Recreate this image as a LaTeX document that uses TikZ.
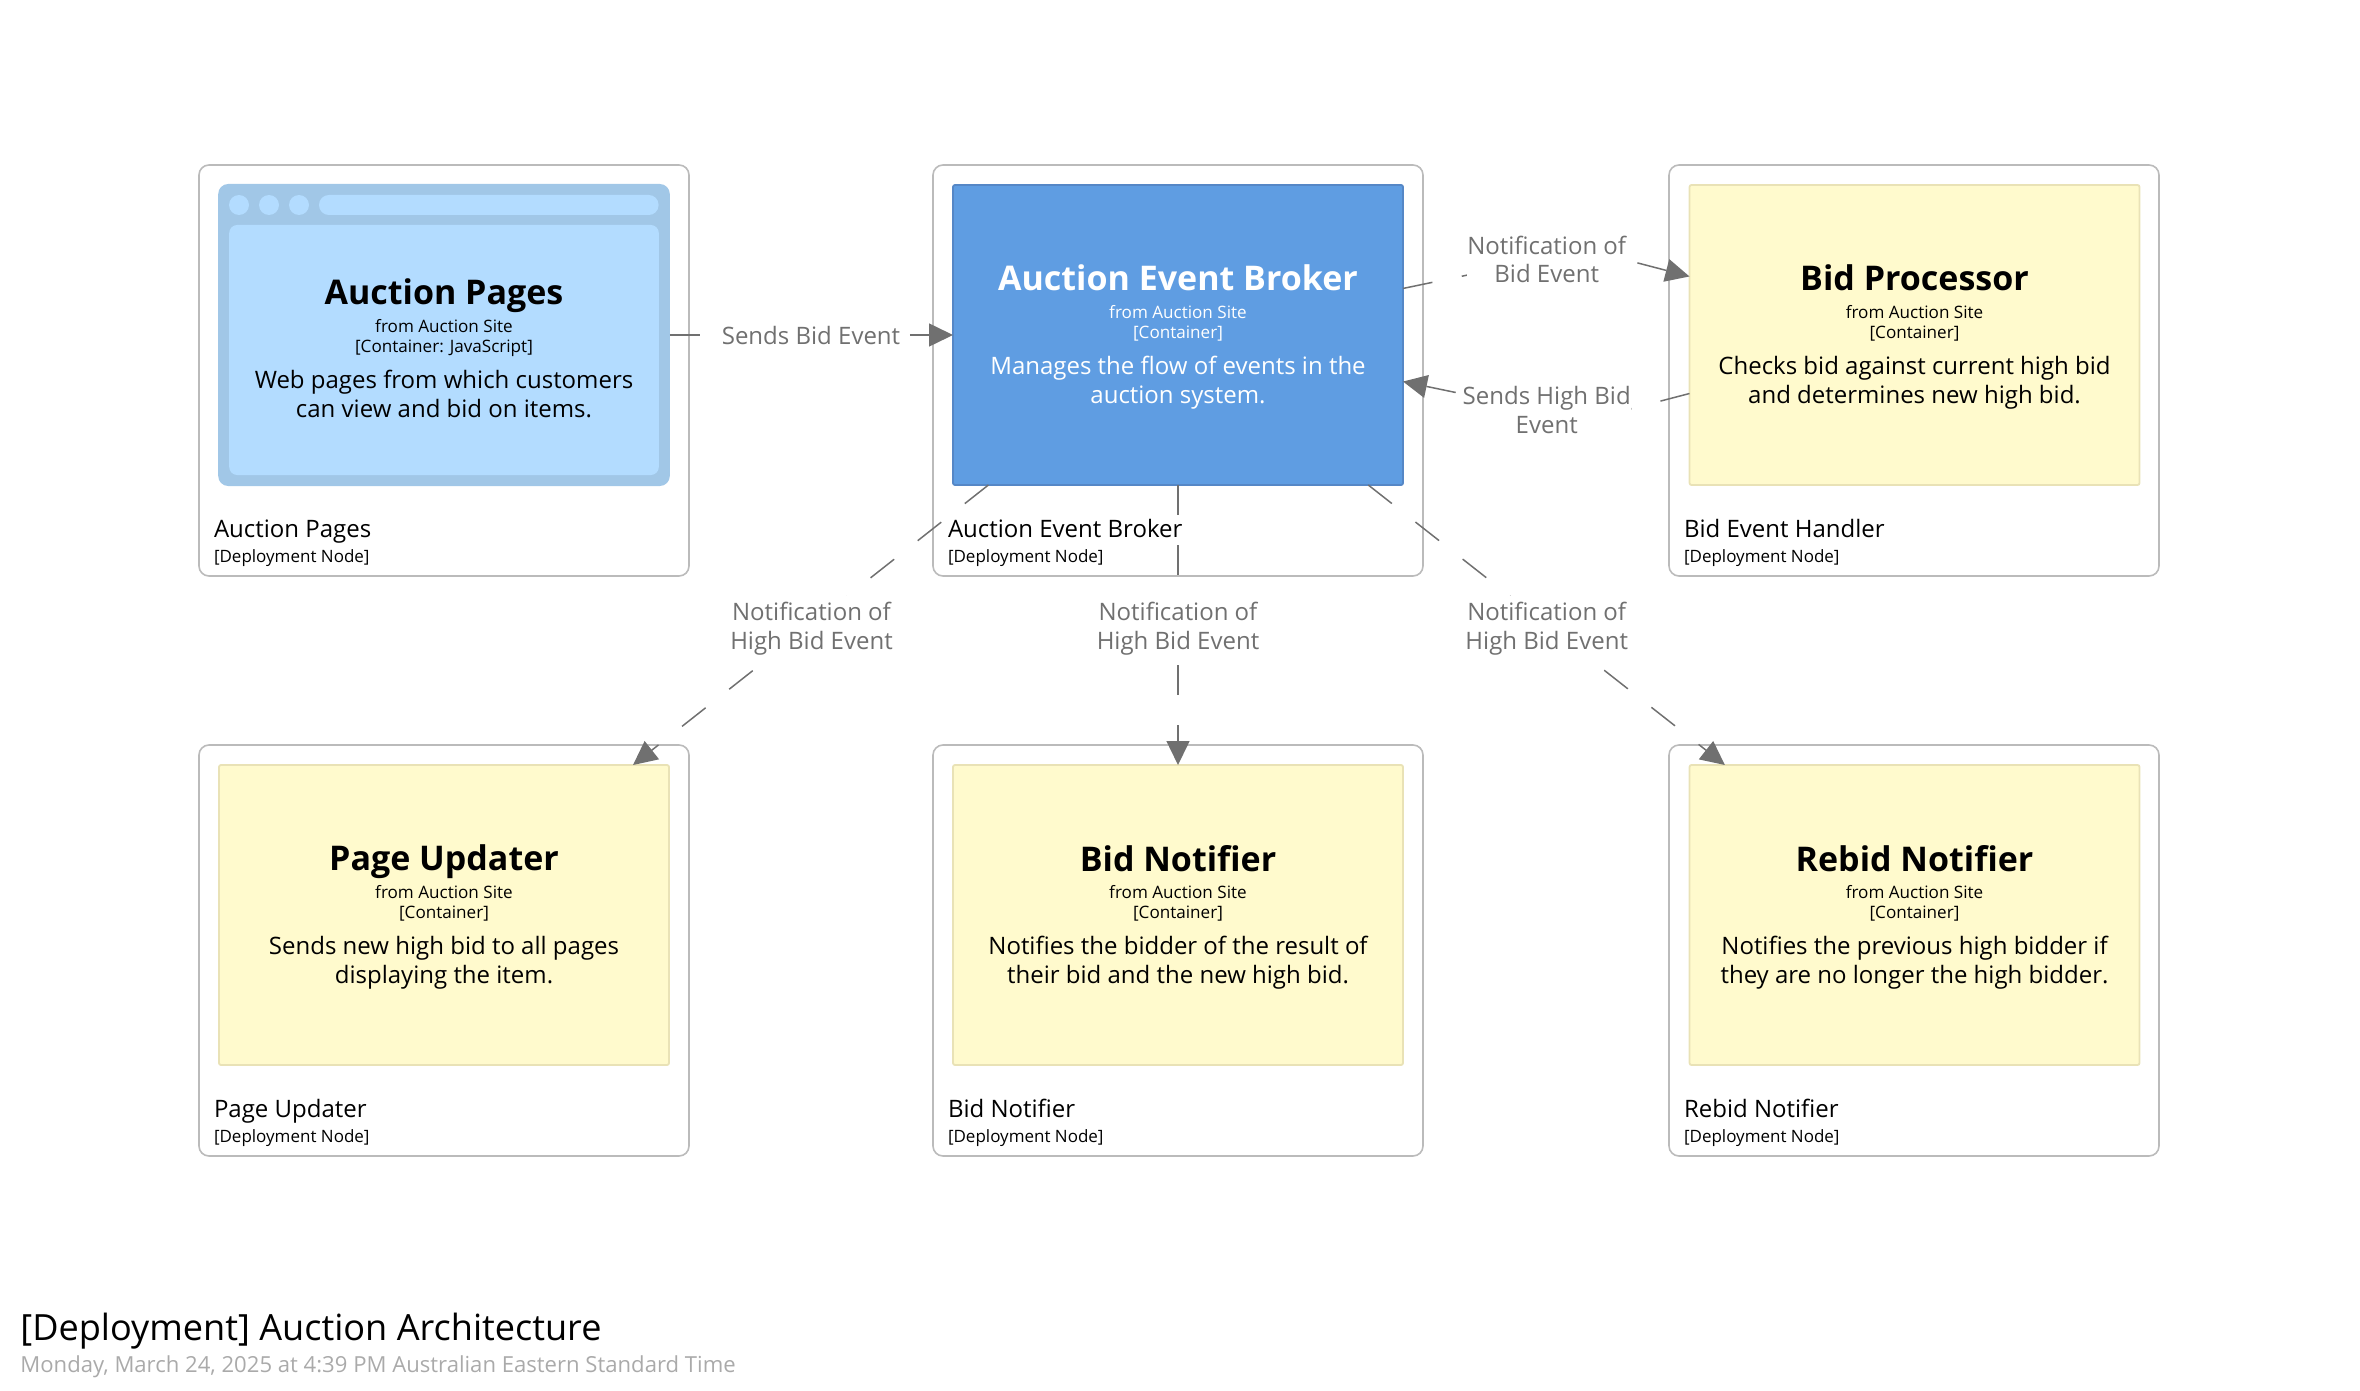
\documentclass[tikz,border=0pt]{standalone}
\usepackage{fontspec}
\setmainfont{Open Sans}
\usetikzlibrary{positioning,arrows.meta}

\definecolor{framegray}{HTML}{BBBBBB}
\definecolor{edgegray}{HTML}{707070}
\definecolor{dategray}{HTML}{AAAAAA}
\definecolor{brokerblue}{HTML}{5F9DE2}
\definecolor{brokerline}{HTML}{5587C6}
\definecolor{noteyellow}{HTML}{FFFACD}
\definecolor{noteline}{HTML}{E9E2B6}
\definecolor{browserblue}{HTML}{A1C7E7}
\definecolor{screenblue}{HTML}{B3DCFF}

\tikzset{
  deployframe/.style={draw=framegray, line width=0.8pt, rounded corners=5pt, minimum width=245pt, minimum height=205.5pt},
  innerbox/.style={line width=0.9pt, outer sep=0pt, rounded corners=1pt, minimum width=225pt, minimum height=150pt},
  yellowbox/.style={innerbox, draw=noteline, fill=noteyellow},
  bluebox/.style={innerbox, draw=brokerline, fill=brokerblue},
  browserbox/.style={fill=browserblue, outer sep=0pt, rounded corners=5pt, minimum width=225.8pt, minimum height=151pt},
  browserscreen/.style={fill=screenblue, rounded corners=4pt, minimum width=214.8pt, minimum height=125pt},
  browserbar/.style={fill=screenblue, rounded corners=4.9pt, minimum width=169.8pt, minimum height=10pt},
  browserdot/.style={circle, fill=screenblue, minimum size=10pt},
  boxtext/.style={inner sep=0pt, align=center, font=\fontsize{12}{14.5}\selectfont},
  deploytext/.style={inner sep=0pt, align=left, font=\fontsize{12}{12.5}\selectfont},
  edgelabel/.style={fill=white, inner xsep=0pt, inner ysep=3pt, align=center, text=edgegray, font=\fontsize{12}{14.4}\selectfont},
  edgeline/.style={draw=edgegray, line width=0.75pt, dash pattern=on 15pt off 15pt, -{Triangle[length=12pt,width=11.5pt]}},
}
\newcommand{\boxname}[1]{{\fontsize{17}{17}\bfseries\selectfont #1}\\[-0.85pt]}
\newcommand{\boxmeta}[2]{{\fontsize{8.55}{9}\selectfont #1}\\[-4.4pt]{\fontsize{8.55}{9}\selectfont #2}\\[3.55pt]}
\newcommand{\deploymeta}{{\fontsize{8.5}{9}\selectfont [Deployment Node]}}

\begin{document}
\begin{tikzpicture}[x=0.5pt,y=-0.5pt]
  \useasboundingbox (0,0) rectangle (2360,1391);

  \node[deployframe] (pagesframe) at (444,370.5) {};
  \node[deployframe] (brokerframe) at (1178,370.5) {};
  \node[deployframe] (handlerframe) at (1914,370.5) {};
  \node[deployframe] (updaterframe) at (444,950.5) {};
  \node[deployframe] (notifierframe) at (1178,950.5) {};
  \node[deployframe] (rebidframe) at (1914,950.5) {};

  \node[browserbox] (pages) at (444,335) {};
  \node[browserscreen] (pagesscreen) at (444,350) {};
  \node[browserdot] (pagesdota) at (239,205) {};
  \node[browserdot] (pagesdotb) at (269,205) {};
  \node[browserdot] (pagesdotc) at (299,205) {};
  \node[browserbar] (pagesbar) at (488.8,205) {};
  \node[bluebox] (broker) at (1178,335) {};
  \node[yellowbox] (processor) at (1914.5,335) {};
  \node[yellowbox] (updater) at (444,915) {};
  \node[yellowbox] (notifier) at (1178,915) {};
  \node[yellowbox] (rebid) at (1914.5,915) {};

  \coordinate (bidbend) at (1588,250);
  \coordinate (highbend) at (1588,420);

  \draw[edgeline] (pages) -- (broker);
  \draw[edgeline] (broker) -- (bidbend) -- (processor);
  \draw[edgeline] (processor) -- (highbend) -- (broker);
  \draw[edgeline] (broker) -- (updater);
  \draw[edgeline] (broker) -- (notifier);
  \draw[edgeline] (broker) -- (rebid);

  \node[edgelabel] (sendsbid) at (811,335.5) {Sends Bid Event};
  \node[edgelabel] (bidnote) at (1546.7,259.5) {Notification of\\Bid Event};
  \node[edgelabel] (highbid) at (1546.7,410) {Sends High Bid\\Event};
  \node[edgelabel] (updaternote) at (811.5,628.5) {Notification of\\High Bid Event};
  \node[edgelabel] (notifiernote) at (1178,628.5) {Notification of\\High Bid Event};
  \node[edgelabel] (rebidnote) at (1546.7,628.5) {Notification of\\High Bid Event};

  \node[boxtext, below=47.3pt of pages.north] (pagestext) {\boxname{Auction Pages}\boxmeta{from Auction Site}{[Container: JavaScript]}Web pages from which customers\\can view and bid on items.};
  \node[boxtext, text=white, below=39.8pt of broker.north] (brokertext) {\boxname{Auction Event Broker}\boxmeta{from Auction Site}{[Container]}Manages the flow of events in the\\auction system.};
  \node[boxtext, below=39.8pt of processor.north] (processortext) {\boxname{Bid Processor}\boxmeta{from Auction Site}{[Container]}Checks bid against current high bid\\and determines new high bid.};
  \node[boxtext, below=39.8pt of updater.north] (updatertext) {\boxname{Page Updater}\boxmeta{from Auction Site}{[Container]}Sends new high bid to all pages\\displaying the item.};
  \node[boxtext, below=39.8pt of notifier.north] (notifiertext) {\boxname{Bid Notifier}\boxmeta{from Auction Site}{[Container]}Notifies the bidder of the result of\\their bid and the new high bid.};
  \node[boxtext, below=39.8pt of rebid.north] (rebidtext) {\boxname{Rebid Notifier}\boxmeta{from Auction Site}{[Container]}Notifies the previous high bidder if\\they are no longer the high bidder.};

  \node[deploytext, above right=5pt and 7.7pt of pagesframe.south west] (pagesname) {Auction Pages\\\deploymeta};
  \node[deploytext, above right=5pt and 7.7pt of brokerframe.south west] (brokername) {Auction Event Broker\\\deploymeta};
  \node[deploytext, above right=5pt and 7.7pt of handlerframe.south west] (handlername) {Bid Event Handler\\\deploymeta};
  \node[deploytext, above right=5pt and 7.7pt of updaterframe.south west] (updatername) {Page Updater\\\deploymeta};
  \node[deploytext, above right=5pt and 7.7pt of notifierframe.south west] (notifiername) {Bid Notifier\\\deploymeta};
  \node[deploytext, above right=5pt and 7.7pt of rebidframe.south west] (rebidname) {Rebid Notifier\\\deploymeta};

  \node[anchor=base west, inner sep=0pt, font=\fontsize{18.05}{18}\selectfont] (viewtitle) at (20,1340.5) {[Deployment] Auction Architecture};
  \node[anchor=base west, inner sep=0pt, text=dategray, font=\fontsize{11.05}{12}\selectfont] (viewdate) at (20,1372) {Monday, March 24, 2025 at 4:39 PM Australian Eastern Standard Time};
\end{tikzpicture}
\end{document}
